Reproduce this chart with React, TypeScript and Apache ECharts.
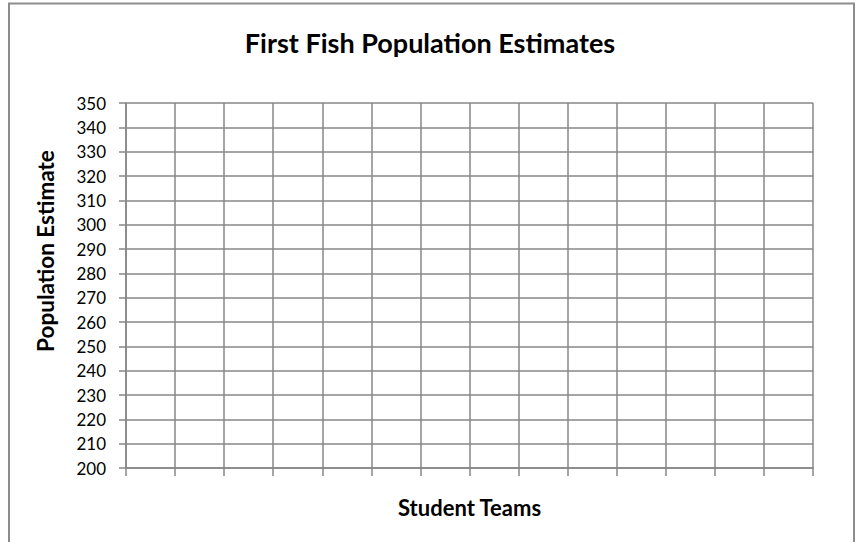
import React, { useEffect, useRef } from "react";
import * as echarts from "echarts";

const teams: string[] = [
  "Team 1", "Team 2", "Team 3", "Team 4", "Team 5", "Team 6", "Team 7",
  "Team 8", "Team 9", "Team 10", "Team 11", "Team 12", "Team 13", "Team 14",
];
// No estimates have been recorded yet: the chart is a blank grid.
const estimates: (number | null)[] = [
  null, null, null, null, null, null, null, null, null, null, null, null, null, null,
];
const yMin = 200;
const yMax = 350;
const yStep = 10;

const GRID = "#878787";
const FONT = "Lato, 'Open Sans', sans-serif";

export default function App() {
  const ref = useRef<HTMLDivElement>(null);
  useEffect(() => {
    document.body.style.margin = "0";
    if (!ref.current) return;
    const chart = echarts.init(ref.current, undefined, { renderer: "svg" });
    chart.setOption({
      animation: false,
      backgroundColor: "#ffffff",
      title: {
        text: "First Fish Population Estimates",
        left: "center",
        top: 29,
        padding: [0, 0, 0, 6],
        textStyle: { fontFamily: FONT, fontWeight: "bold", fontSize: 27, color: "#000" },
      },
      grid: {
        left: 126,
        right: 47,
        top: 103,
        bottom: 74,
        containLabel: false,
        outerBoundsMode: "none",
      },
      xAxis: {
        type: "category",
        data: teams,
        boundaryGap: true,
        name: "Student Teams",
        nameLocation: "middle",
        nameGap: 28,
        nameTextStyle: { fontFamily: FONT, fontWeight: "bold", fontSize: 22, color: "#000" },
        axisLine: { show: true, lineStyle: { color: GRID, width: 1.5 } },
        axisTick: { show: true, length: 8, alignWithLabel: false, interval: 0, lineStyle: { color: GRID, width: 1.5 } },
        axisLabel: { show: false },
        splitLine: { show: true, interval: 0, lineStyle: { color: GRID, width: 1.5 } },
      },
      yAxis: {
        type: "value",
        min: yMin,
        max: yMax,
        interval: yStep,
        axisLine: { show: true, lineStyle: { color: GRID, width: 1.5 } },
        axisTick: { show: true, length: 7, lineStyle: { color: GRID, width: 1.5 } },
        axisLabel: { margin: 20, fontFamily: FONT, fontSize: 17, color: "#000" },
        splitLine: { show: true, lineStyle: { color: GRID, width: 1.5 } },
      },
      graphic: [
        {
          type: "rect",
          shape: { x: 9, y: 3.5, width: 845, height: 580 },
          style: { fill: "none", stroke: "#8c8c8c", lineWidth: 2 },
          silent: true,
          z: -1,
        },
        {
          type: "text",
          x: 45,
          y: 251,
          rotation: Math.PI / 2,
          style: {
            text: "Population Estimate",
            fontFamily: FONT,
            fontWeight: "bold",
            fontSize: 22.5,
            fill: "#000",
            textAlign: "center",
            textVerticalAlign: "middle",
          },
        },
      ],
      series: [
        {
          type: "bar",
          name: "Population Estimate",
          data: estimates,
        },
      ],
    });
    return () => chart.dispose();
  }, []);
  return <div ref={ref} style={{ width: 860, height: 542 }} />;
}
